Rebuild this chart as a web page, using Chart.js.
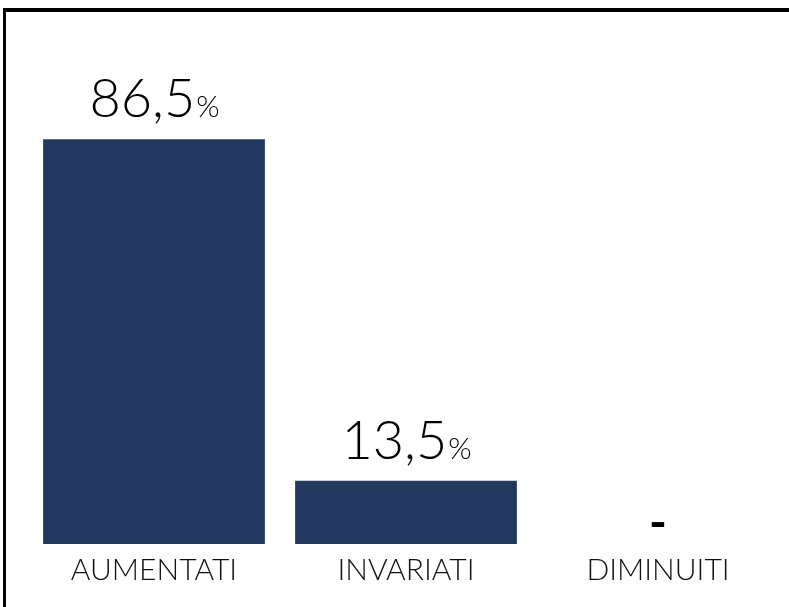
<!DOCTYPE html>
<html>
<head>
<meta charset="utf-8">
<script src="https://cdn.jsdelivr.net/npm/chart.js@4/dist/chart.umd.min.js"></script>
<style>
  html, body { margin: 0; padding: 0; background: #fff; }
  #wrap { position: relative; width: 789px; height: 607px; }
  #frame { position: absolute; left: 3px; top: 8px; right: 0; bottom: 0;
           border-top: 4px solid #000; border-left: 3px solid #000; pointer-events: none; }
</style>
</head>
<body>
<div id="wrap">
  <canvas id="c" width="789" height="607"></canvas>
  <div id="frame"></div>
</div>
<script>
const categories = ["AUMENTATI", "INVARIATI", "DIMINUITI"];
const values = [86.5, 13.5, 0];
const valueLabels = ["86,5", "13,5", "-"];
const percentSign = ["%", "%", ""];

const FONT = "Lato, 'Noto Sans', sans-serif";

const valueLabelPlugin = {
  id: 'valueLabels',
  afterDatasetsDraw(chart) {
    const ctx = chart.ctx;
    const meta = chart.getDatasetMeta(0);
    ctx.save();
    ctx.fillStyle = '#000';
    meta.data.forEach((bar, i) => {
      const x = bar.x;
      const y = bar.y;
      const main = valueLabels[i];
      const pct = percentSign[i];
      if (main === "-") {
        ctx.font = "700 48px " + FONT;
        ctx.textAlign = 'center';
        ctx.textBaseline = 'middle';
        ctx.fillText(main, x, y - 20);
        return;
      }
      ctx.font = "300 54px " + FONT;
      const w1 = ctx.measureText(main).width;
      ctx.font = "300 30px " + FONT;
      const w2 = ctx.measureText(pct).width;
      const start = x - (w1 + w2) / 2;
      ctx.textAlign = 'left';
      ctx.textBaseline = 'alphabetic';
      ctx.font = "300 54px " + FONT;
      ctx.fillText(main, start, y - 22);
      ctx.font = "300 30px " + FONT;
      ctx.fillText(pct, start + w1 + 1, y - 22);
    });
    ctx.restore();
  }
};

new Chart(document.getElementById('c'), {
  type: 'bar',
  data: {
    labels: categories,
    datasets: [{
      data: values,
      backgroundColor: '#22385f',
      borderWidth: 0,
      barPercentage: 0.88,
      categoryPercentage: 1.0
    }]
  },
  options: {
    responsive: false,
    animation: false,
    layout: { padding: { top: 76, left: 28, right: 5, bottom: 19 } },
    plugins: { legend: { display: false }, tooltip: { enabled: false } },
    scales: {
      y: { display: false, min: 0, max: 100 },
      x: {
        grid: { display: false },
        border: { display: false },
        ticks: { color: '#111', padding: 0, font: { family: FONT, size: 30, weight: '300' } }
      }
    }
  },
  plugins: [valueLabelPlugin]
});
</script>
</body>
</html>
